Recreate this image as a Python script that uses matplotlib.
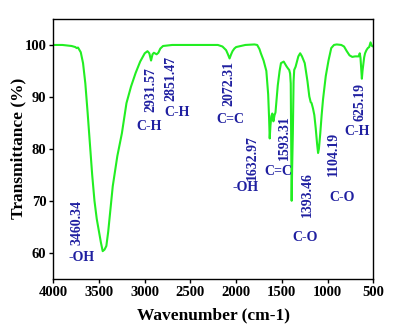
import matplotlib
matplotlib.use("Agg")
from matplotlib import pyplot as plt

# FTIR spectrum
wavenumber = [4000, 3900, 3800, 3760, 3745, 3730, 3700, 3675, 3650, 3625, 3600, 3575, 3550,
              3525, 3500, 3480, 3460, 3440, 3420, 3400, 3375, 3350, 3300, 3250, 3200, 3150,
              3100, 3050, 3000, 2970, 2950, 2931, 2915, 2900, 2870, 2851, 2830, 2800, 2700,
              2600, 2500, 2400, 2300, 2200, 2150, 2110, 2090, 2072, 2055, 2040, 2020, 2000,
              1900, 1800, 1770, 1745, 1730, 1700, 1670, 1650, 1640, 1633, 1625, 1615, 1605,
              1600, 1593, 1580, 1570, 1555, 1545, 1525, 1510, 1480, 1450, 1430, 1420, 1410,
              1403, 1398, 1393, 1388, 1380, 1372, 1365, 1350, 1320, 1300, 1280, 1250, 1220,
              1200, 1185, 1175, 1160, 1145, 1130, 1115, 1104, 1095, 1080, 1065, 1050, 1020,
              990, 960, 930, 900, 850, 820, 790, 760, 730, 700, 680, 660, 648, 640, 632,
              625, 618, 610, 600, 590, 575, 560, 545, 530, 515, 500]
transmittance = [100.0, 100.0, 99.8, 99.6, 99.4, 99.5, 98.6, 96.5, 92.6, 87.0, 81.0, 75.0, 70.0,
                 66.5, 64.0, 62.0, 60.3, 60.6, 61.3, 64.0, 68.5, 72.8, 78.6, 83.0, 88.8, 92.0,
                 94.6, 96.8, 98.4, 98.8, 98.4, 97.0, 98.2, 98.5, 98.2, 98.5, 99.3, 99.8, 100.0,
                 100.0, 100.0, 100.0, 100.0, 100.0, 99.7, 99.0, 98.2, 97.4, 98.2, 98.8, 99.3, 99.6,
                 100.0, 100.1, 100.0, 99.2, 98.4, 97.0, 95.0, 90.5, 86.0, 82.0, 84.5, 86.3, 86.8,
                 86.6, 85.3, 86.5, 87.0, 90.0, 92.2, 95.0, 96.5, 96.8, 95.9, 95.4, 95.2, 94.5,
                 92.6, 82.0, 70.0, 76.0, 83.0, 93.0, 95.2, 95.8, 97.8, 98.4, 97.8, 96.5, 93.0,
                 90.1, 89.0, 88.8, 87.8, 86.5, 84.0, 81.0, 79.2, 80.0, 83.0, 86.5, 89.5, 94.0,
                 97.0, 99.4, 100.0, 100.1, 100.0, 99.7, 98.8, 98.0, 97.7, 97.8, 97.8, 97.8, 98.4,
                 97.5, 95.5, 93.5, 95.0, 96.2, 97.6, 98.4, 99.0, 99.4, 99.6, 100.5, 99.8, 99.7]

# peak wavenumber labels (rotated) and group labels
peak_labels = ["3460.34", "2931.57", "2851.47", "2072.31", "1632.97", "1593.31",
               "1393.46", "1104.19", "625.19"]
peak_x = [3737, 2935, 2717, 2075, 1823, 1477, 1225, 937, 642]
peak_y = [65.8, 91.4, 93.6, 92.5, 78.3, 82.1, 71.1, 79.0, 89.0]

group_labels = ["-OH", "C-H", "C-H", "C=C", "-OH", "C=C", "C-O", "C-O", "C-H"]
group_x = [3690, 2950, 2651, 2068, 1896, 1539, 1247, 846, 675]
group_y = [59.0, 84.3, 87.0, 85.6, 72.5, 75.6, 62.9, 70.6, 83.3]

plt.rcParams['font.family'] = ['Liberation Serif', 'DejaVu Serif']
plt.rcParams['font.weight'] = 'bold'

fig = plt.figure(figsize=(4.04, 3.32), dpi=100)
ax = fig.add_axes([0.132, 0.1606, 0.792, 0.7822])

ax.plot(wavenumber, transmittance, color='#22ee22', linewidth=1.5)

text_color = '#1f1fa0'
for lab, x, y in zip(peak_labels, peak_x, peak_y):
    ax.text(x, y, lab, rotation=90, ha='center', va='center',
            color=text_color, fontsize=10, fontweight='bold')
for lab, x, y in zip(group_labels, group_x, group_y):
    ax.text(x, y, lab, ha='center', va='center',
            color=text_color, fontsize=10, fontweight='bold')

ax.set_xlim(4000, 500)
ax.set_ylim(55, 105)
ax.set_xticks([4000, 3500, 3000, 2500, 2000, 1500, 1000, 500])
ax.set_yticks([60, 70, 80, 90, 100])
ax.tick_params(direction='out', length=3, width=1, labelsize=10.5, pad=2)
for lbl in ax.get_xticklabels() + ax.get_yticklabels():
    lbl.set_fontweight('bold')
for sp in ax.spines.values():
    sp.set_linewidth(1)

ax.set_xlabel("Wavenumber (cm-1)", fontsize=12.5, fontweight='bold', labelpad=6)
ax.set_ylabel("Transmittance (%)", fontsize=12.5, fontweight='bold', labelpad=-1)

fig.savefig("out.png", dpi=100)
plt.close()
